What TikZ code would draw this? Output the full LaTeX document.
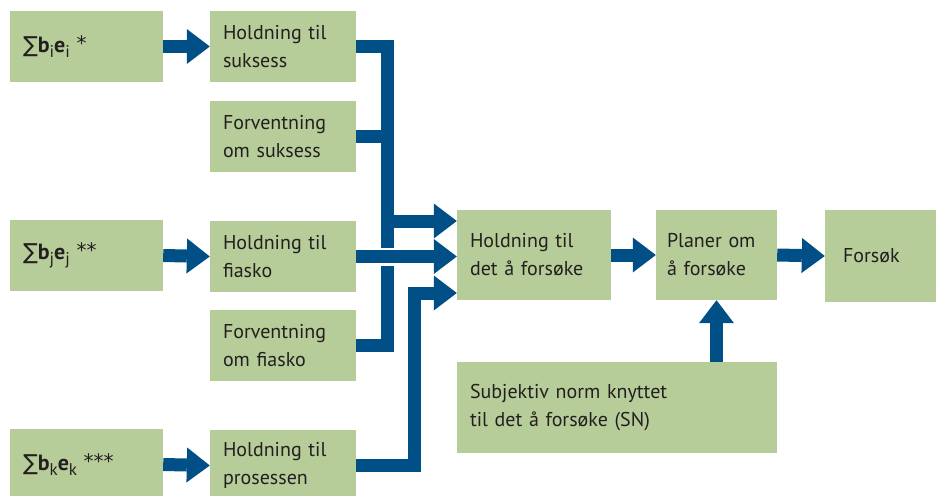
\documentclass[tikz,border=0pt]{standalone}
\usepackage{fontspec}
\setmainfont{PT Sans}
\newfontfamily\sumfont{DejaVu Sans}
\usepackage{xcolor}
\usetikzlibrary{positioning,calc,arrows.meta}

\definecolor{boxgreen}{RGB}{183,205,153}
\definecolor{flowblue}{RGB}{0,79,135}
\definecolor{inkdark}{RGB}{35,31,32}

\newcommand{\lowidx}[1]{\raisebox{-0.22em}{\fontsize{17}{17}\selectfont #1}}
\newcommand{\sumterm}[2]{{\fontsize{22}{28}\selectfont{\sumfont\char"2211}\textbf{b}\lowidx{#1}\textbf{e}\lowidx{#1}\ {\sumfont\fontsize{20}{28}\selectfont\raisebox{0.1em}{#2}}}}

\begin{document}
\begin{tikzpicture}[x=1pt, y=-1pt,
  box/.style={rectangle, fill=boxgreen, text=inkdark, inner xsep=13pt, inner ysep=0pt,
    align=left, minimum height=71pt, text width=#1,
    font=\fontsize{20}{28}\selectfont},
  flow/.style={draw=flowblue, line width=13pt,
    -{Triangle[length=23pt, width=35pt, line width=0pt]}},
  bar/.style={draw=flowblue, line width=13pt}]
  \useasboundingbox (0,0) rectangle (936,495);
  \clip (0,0) rectangle (936,495);

  % Left column: weighted sums
  \node[box=127pt] (sum1) at (86.5, 46.5) {\sumterm{i}{*}};
  \node[box=127pt] (sum2) at (86.5, 255.5) {\sumterm{j}{**}};
  \node[box=127pt] (sum3) at (86.5, 464.5) {\sumterm{k}{***}};

  % Middle column: attitudes and expectations
  \node[box=120pt] (hold1) at (283, 46.5) {Holdning til\\suksess};
  \node[box=120pt] (fore1) at (283, 136.5) {Forventning\\om suksess};
  \node[box=120pt] (hold2) at (283, 256.5) {Holdning til\\fiasko};
  \node[box=120pt] (fore2) at (283, 345.5) {Forventning\\om fiasko};
  \node[box=120pt] (hold3) at (283, 465.5) {Holdning til\\prosessen};

  % Right part
  \node[box=128pt, minimum height=90pt] (hd) at (534, 255) {Holdning til\\det å forsøke};
  \node[box=99pt, inner xsep=11pt, minimum height=90pt] (plan) at (716.5, 255) {Planer om\\å forsøke};
  \node[box=104pt, inner xsep=18pt, minimum height=92pt] (try) at (895, 256) {Forsøk};
  \node[box=294pt, minimum height=91pt] (sn) at (617, 407.5) {Subjektiv norm knyttet\\til det å forsøke (SN)};

  % Bus points
  \coordinate (bus1) at (387, 221);
  \coordinate (bus2) at (414, 293);
  \coordinate (inA) at (hd.west |- bus1);
  \coordinate (inB) at (hd.west |- hold2.east);
  \coordinate (inC) at (hd.west |- bus2);

  % Sums into attitudes
  \draw[flow] (sum1.east) -- (hold1.west);
  \draw[flow] (sum2.east) -- (hold2.west);
  \draw[flow] (sum3.east) -- (hold3.west);

  % Bus into Holdning til det å forsøke
  \draw[bar] (fore1.east) -- (fore1.east -| bus1);
  \draw[bar] (fore2.east) -| (bus1);
  \draw[flow] (hold1.east) -| (bus1) -- (inA);
  \draw[white, line width=18pt] (hold2.east) -- ++(60,0);
  \draw[flow] (hold2.east) -- (inB);
  \draw[flow] (hold3.east) -| (bus2) -- (inC);

  % Chain to the right
  \draw[flow] (hd.east) -- (plan.west);
  \draw[flow] (plan.east) -- (try.west);
  \draw[flow] (plan.south |- sn.north) -- (plan.south);
\end{tikzpicture}
\end{document}
